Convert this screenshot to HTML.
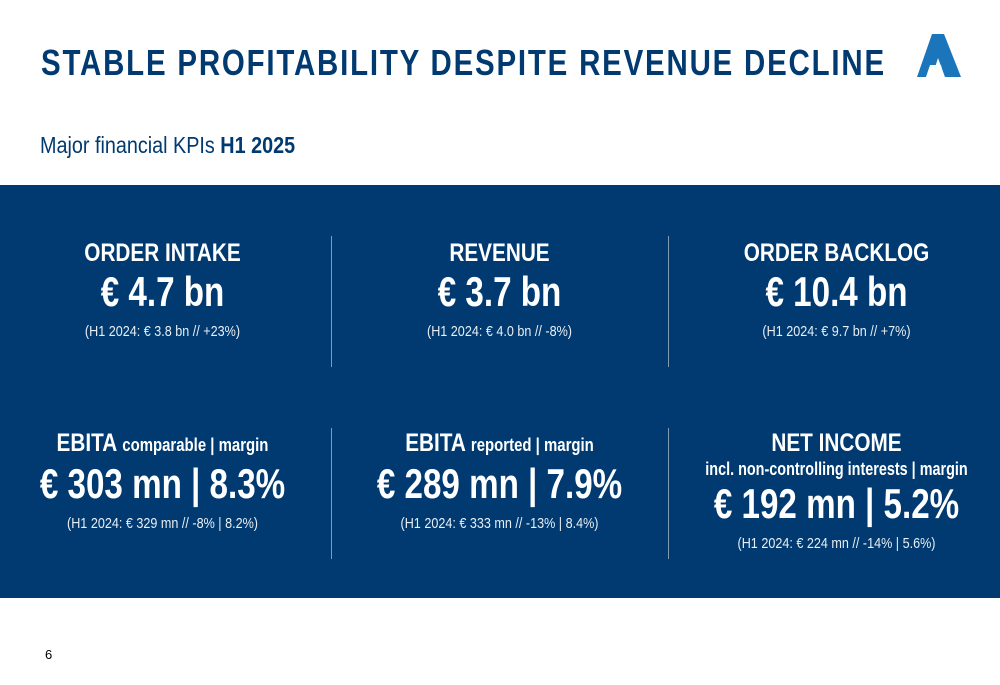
<!DOCTYPE html>
<html><head><meta charset="utf-8"><style>
body{margin:0;width:1000px;height:685px;background:#fff;position:relative;overflow:hidden;font-family:"Liberation Sans",sans-serif;color:#003a70}
.t{position:absolute;left:41px;top:42px;font-size:36px;font-weight:bold;letter-spacing:2.2px;white-space:nowrap;transform:scaleX(0.818);transform-origin:0 0}
.s{position:absolute;left:40px;top:132px;font-size:23px;white-space:nowrap;transform:scaleX(0.86);transform-origin:0 0}
.band{position:absolute;left:0;top:185px;width:1000px;height:413px;background:#003a70}
.c{position:absolute;width:337px;text-align:center;color:#fff;white-space:nowrap}
.c>div{transform-origin:50% 50%}
.h{font-size:25px;font-weight:bold;line-height:30px;transform:scaleX(0.83)}
.h small{font-size:18px}
.v{font-size:42px;font-weight:bold;line-height:48px;transform:scaleX(0.79)}
.p{font-size:15px;line-height:20px;margin-top:6px;color:#e8eef5;transform:scaleX(0.84)}
.d{position:absolute;width:1px;background:#7f9bb8}
.n{position:absolute;left:45px;top:647px;font-size:13px;color:#000}
</style></head><body>
<div class="t">STABLE PROFITABILITY DESPITE REVENUE DECLINE</div>
<svg style="position:absolute;left:915px;top:34px" width="48" height="44" viewBox="0 0 48 44"><polygon points="17,0 29,0 46,43 30,43 23,24 17,43 2,43" fill="#1a75bb"/><polygon points="15,31 26,31 29,43 11,43" fill="#fff"/></svg>
<div class="s">Major financial KPIs <b>H1 2025</b></div>
<div class="band"></div>
<div class="d" style="left:331px;top:236px;height:131px"></div>
<div class="d" style="left:668px;top:236px;height:131px"></div>
<div class="d" style="left:331px;top:428px;height:131px"></div>
<div class="d" style="left:668px;top:428px;height:131px"></div>
<div class="c" style="left:-6px;top:238px"><div class="h">ORDER INTAKE</div><div class="v">€ 4.7 bn</div><div class="p">(H1 2024: € 3.8 bn // +23%)</div></div>
<div class="c" style="left:331px;top:238px"><div class="h">REVENUE</div><div class="v">€ 3.7 bn</div><div class="p">(H1 2024: € 4.0 bn // -8%)</div></div>
<div class="c" style="left:668px;top:238px"><div class="h">ORDER BACKLOG</div><div class="v">€ 10.4 bn</div><div class="p">(H1 2024: € 9.7 bn // +7%)</div></div>
<div class="c" style="left:-6px;top:428px"><div class="h">EBITA <small>comparable | margin</small></div><div class="v">€ 303 mn | 8.3%</div><div class="p">(H1 2024: € 329 mn // -8% | 8.2%)</div></div>
<div class="c" style="left:331px;top:428px"><div class="h">EBITA <small>reported | margin</small></div><div class="v">€ 289 mn | 7.9%</div><div class="p">(H1 2024: € 333 mn // -13% | 8.4%)</div></div>
<div class="c" style="left:668px;top:428px"><div class="h">NET INCOME</div><div class="h" style="font-size:18px;line-height:22px;transform:scaleX(0.8)">incl. non-controlling interests | margin</div><div class="v">€ 192 mn | 5.2%</div><div class="p">(H1 2024: € 224 mn // -14% | 5.6%)</div></div>
<div class="n">6</div>
</body></html>
